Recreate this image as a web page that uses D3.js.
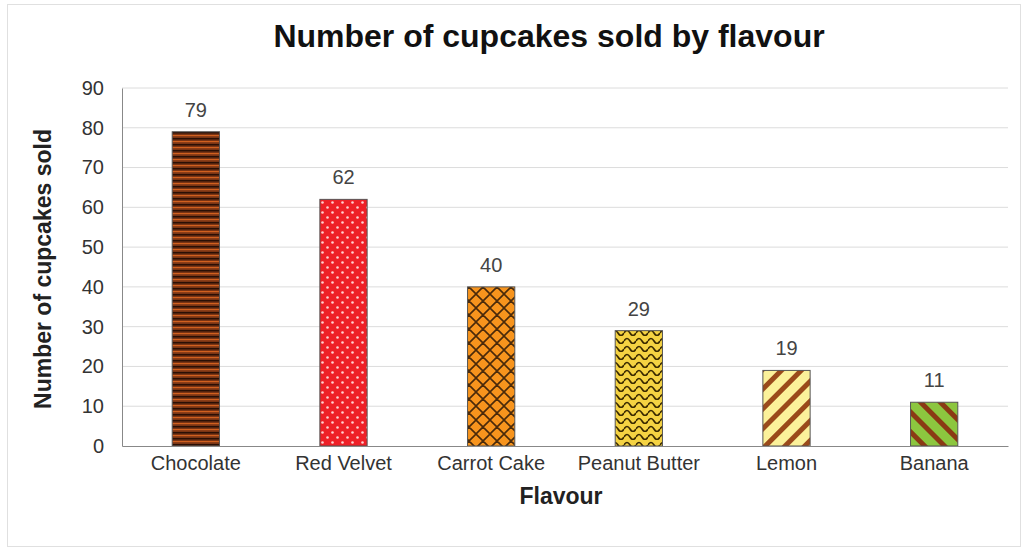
<!DOCTYPE html>
<html><head><meta charset="utf-8">
<script src="https://cdn.jsdelivr.net/npm/d3@7"></script>
<style>body{margin:0;background:#fff;}svg{display:block;}</style>
</head><body>
<script>
const categories = ["Chocolate","Red Velvet","Carrot Cake","Peanut Butter","Lemon","Banana"];
const values = [79,62,40,29,19,11];
const yTicks = [0,10,20,30,40,50,60,70,80,90];
const patterns = ["stripesH","dots","cross","waves","diagY","diagG"];

const W=1028,H=548;
const m={left:122,right:1008,top:88,bottom:446};
const FONT="Liberation Sans, Arial, sans-serif";
const svg=d3.select("body").append("svg").attr("width",W).attr("height",H);
const defs=svg.append("defs");

// patterns
let p=defs.append("pattern").attr("id","stripesH").attr("patternUnits","userSpaceOnUse").attr("width",10).attr("height",6);
p.append("rect").attr("width",10).attr("height",6).attr("fill","#7a3414");
p.append("rect").attr("y",0).attr("width",10).attr("height",1.5).attr("fill","#2a0f05");
p.append("rect").attr("y",3).attr("width",10).attr("height",1.2).attr("fill","#d0601f");

p=defs.append("pattern").attr("id","dots").attr("patternUnits","userSpaceOnUse").attr("width",10).attr("height",10);
p.append("rect").attr("width",10).attr("height",10).attr("fill","#ee2027");
p.append("circle").attr("cx",2.5).attr("cy",2.5).attr("r",1.3).attr("fill","#ffd0d0");
p.append("circle").attr("cx",7.5).attr("cy",7.5).attr("r",1.3).attr("fill","#ffd0d0");

p=defs.append("pattern").attr("id","cross").attr("patternUnits","userSpaceOnUse").attr("width",14).attr("height",14);
p.append("rect").attr("width",14).attr("height",14).attr("fill","#f7941d");
p.append("path").attr("d","M0,0L14,14M14,0L0,14M-7,7L7,21M7,-7L21,7M21,7L7,21M7,-7L-7,7").attr("stroke","#4a2a0a").attr("stroke-width",1.6);

p=defs.append("pattern").attr("id","waves").attr("patternUnits","userSpaceOnUse").attr("width",12).attr("height",8);
p.append("rect").attr("width",12).attr("height",8).attr("fill","#f5d342");
p.append("path").attr("d","M0,5Q3,0 6,5T12,5").attr("fill","none").attr("stroke","#3a2a00").attr("stroke-width",1.6);

p=defs.append("pattern").attr("id","diagY").attr("patternUnits","userSpaceOnUse").attr("width",14).attr("height",14).attr("patternTransform","rotate(45)");
p.append("rect").attr("width",14).attr("height",14).attr("fill","#fbf19a");
p.append("rect").attr("width",5).attr("height",14).attr("fill","#9a4a1a");

p=defs.append("pattern").attr("id","diagG").attr("patternUnits","userSpaceOnUse").attr("width",14).attr("height",14).attr("patternTransform","rotate(-45)");
p.append("rect").attr("width",14).attr("height",14).attr("fill","#8cc63f");
p.append("rect").attr("width",5).attr("height",14).attr("fill","#8a3a14");

// outer border
svg.append("rect").attr("x",7.5).attr("y",4.5).attr("width",1013).attr("height",542).attr("fill","none").attr("stroke","#e0e0e0");

const x=d3.scaleBand().domain(categories).range([m.left,m.right]).paddingInner(0.68).paddingOuter(0.34);
const y=d3.scaleLinear().domain([0,90]).range([m.bottom,m.top]);

// gridlines
svg.append("g").selectAll("line").data(yTicks.filter(d=>d>0)).join("line")
 .attr("x1",m.left).attr("x2",m.right).attr("y1",d=>y(d)).attr("y2",d=>y(d))
 .attr("stroke","#dcdcdc").attr("stroke-width",1);

// y axis
const ya=svg.append("g").attr("transform",`translate(${m.left},0)`).call(d3.axisLeft(y).tickValues(yTicks).tickSize(0).tickPadding(18));
ya.select(".domain").attr("stroke","#888");
ya.selectAll("text").attr("font-family",FONT).attr("font-size",20).attr("fill","#333");

// bars
svg.append("g").selectAll("rect").data(values).join("rect")
 .attr("x",(d,i)=>x(categories[i])).attr("width",x.bandwidth())
 .attr("y",d=>y(d)).attr("height",d=>y(0)-y(d))
 .attr("fill",(d,i)=>`url(#${patterns[i]})`).attr("stroke","#555").attr("stroke-width",1);

// x axis
const xa=svg.append("g").attr("transform",`translate(0,${m.bottom})`).call(d3.axisBottom(x).tickSize(0).tickPadding(10));
xa.select(".domain").attr("stroke","#888");
xa.selectAll("text").attr("font-family",FONT).attr("font-size",20).attr("fill","#333");

// value labels
svg.append("g").selectAll("text").data(values).join("text")
 .attr("x",(d,i)=>x(categories[i])+x.bandwidth()/2).attr("y",d=>y(d)-15)
 .attr("text-anchor","middle").attr("font-family",FONT).attr("font-size",20).attr("fill","#444")
 .text(d=>d);

// title
svg.append("text").attr("x",549).attr("y",47).attr("text-anchor","middle")
 .attr("font-family",FONT).attr("font-weight","bold").attr("font-size",32).attr("fill","#111")
 .text("Number of cupcakes sold by flavour");

svg.append("text").attr("x",561).attr("y",504).attr("text-anchor","middle")
 .attr("font-family",FONT).attr("font-weight","bold").attr("font-size",23).attr("fill","#222")
 .text("Flavour");

svg.append("text").attr("transform","translate(51,269) rotate(-90)").attr("text-anchor","middle")
 .attr("font-family",FONT).attr("font-weight","bold").attr("font-size",23).attr("fill","#222")
 .text("Number of cupcakes sold");
</script>
</body></html>
